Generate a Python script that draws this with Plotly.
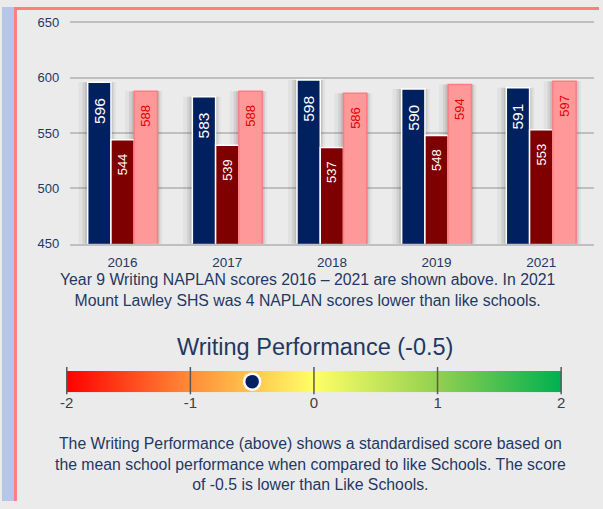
import plotly.graph_objects as go

# ---- data ----
years = ["2016", "2017", "2018", "2019", "2021"]
school = [596, 583, 598, 590, 591]          # Mount Lawley SHS
wa_public = [544, 539, 537, 548, 553]       # second series (dark red)
like_schools = [588, 588, 586, 594, 597]    # Like schools
y_ticks = [450, 500, 550, 600, 650]
gauge_ticks = [-2, -1, 0, 1, 2]
gauge_labels = ["-2", "-1", "0", "1", "2"]
score = -0.5

W, H = 603, 509
FONT = "Liberation Sans, Arial, sans-serif"
NAVY_TXT = "#1f3864"


def px(x):
    return x / W


def py(y):
    return 1 - y / H


PADS = "\u00a0\u00a0\u00a0"
BARGAP = 0.333
bw = (1 - BARGAP) / 3          # width of one bar in category units
unit_px = (593.5 - 68.5) / len(years)

fig = go.Figure()

series = [
    (school, "Mount Lawley SHS", "#002060", "white", 1.5, "white", 15.5),
    (wa_public, "WA Public Schools", "#7f0000", "white", 1.5, "white", 13),
    (like_schools, "Like Schools", "#ff9999", "#ff7c80", 1.5, "#e00000", 13),
]

# soft shadows behind the bars
for i, (vals, *_rest) in enumerate(series):
    off = -(1 - BARGAP) / 2 + i * bw
    for grow, alpha in [(7, 0.06), (4, 0.10), (2, 0.12)]:
        g = grow / unit_px
        fig.add_trace(go.Bar(
            x=years, y=vals, offset=off - g * 1.3, width=bw + g * 2,
            marker=dict(color=f"rgba(60,60,60,{alpha})", line=dict(width=0)),
            hoverinfo="skip", xaxis="x", yaxis="y", showlegend=False,
        ))

for vals, name, col, lcol, lw, tcol, tsize in series:
    fig.add_trace(go.Bar(
        x=years, y=vals, name=name,
        marker=dict(color=col, line=dict(color=lcol, width=lw)),
        text=[f"{v}{PADS}" for v in vals],
        textposition="inside", insidetextanchor="end", textangle=-90,
        constraintext="none",
        textfont=dict(color=tcol, size=tsize, family=FONT),
        hoverinfo="skip", xaxis="x", yaxis="y",
    ))

# gauge gradient bar
fig.add_trace(go.Scatter(
    x=[gauge_ticks[0], gauge_ticks[-1], gauge_ticks[-1], gauge_ticks[0], gauge_ticks[0]],
    y=[0, 0, 1, 1, 0],
    mode="lines", fill="toself", line=dict(width=0),
    fillgradient=dict(type="horizontal", colorscale=[
        [0.0, "#ff0000"], [0.25, "#ff8c38"], [0.5, "#ffff66"],
        [0.75, "#92d050"], [1.0, "#00b050"]]),
    hoverinfo="skip", xaxis="x2", yaxis="y2",
))
fig.add_trace(go.Scatter(
    x=[score], y=[0.5], mode="markers",
    marker=dict(size=16, color="#002060", line=dict(color="white", width=2.5)),
    cliponaxis=False, hoverinfo="skip", xaxis="x2", yaxis="y2",
))

# gauge axis geometry
g0, g1 = 65, 561
ppu = (g1 - g0) / (gauge_ticks[-1] - gauge_ticks[0])
pad = 0.04
gdom = [px(g0 - pad * ppu), px(g1 + pad * ppu)]

shapes = [
    dict(type="rect", xref="paper", yref="paper", x0=0, x1=px(12), y0=0, y1=1,
         fillcolor="#b4c7e7", line=dict(width=0), layer="below"),
    dict(type="rect", xref="paper", yref="paper", x0=px(12), x1=px(15), y0=0, y1=1,
         fillcolor="#ff7c80", line=dict(width=0), layer="below"),
    dict(type="rect", xref="paper", yref="paper", x0=px(12), x1=px(599), y0=py(3), y1=1,
         fillcolor="#ff7c80", line=dict(width=0), layer="below"),
]
for t in gauge_ticks:
    shapes.append(dict(type="line", xref="x2", yref="paper", x0=t, x1=t,
                       y0=py(399), y1=py(371), line=dict(color="#595959", width=1.5)))

annotations = [
    dict(text="Year 9 Writing NAPLAN scores 2016 \u2013 2021 are shown above. In 2021<br>"
              "Mount Lawley SHS was 4 NAPLAN scores lower than like schools.",
         x=px(307), y=py(291.5), xref="paper", yref="paper", showarrow=False,
         xanchor="center", yanchor="middle", font=dict(size=15.8, color=NAVY_TXT, family=FONT)),
    dict(text="Writing Performance (-0.5)",
         x=px(314), y=py(350), xref="paper", yref="paper", showarrow=False,
         xanchor="center", yanchor="middle", font=dict(size=23.5, color=NAVY_TXT, family=FONT)),
    dict(text="The Writing Performance (above) shows a standardised score based on<br>"
              "the mean school performance when compared to like Schools. The score<br>"
              "of -0.5 is lower than Like Schools.",
         x=px(310), y=py(471), xref="paper", yref="paper", showarrow=False,
         xanchor="center", yanchor="middle", font=dict(size=15.8, color=NAVY_TXT, family=FONT)),
]

fig.update_layout(
    width=W, height=H, margin=dict(l=0, r=0, t=0, b=0),
    paper_bgcolor="#ebebeb", plot_bgcolor="rgba(0,0,0,0)",
    showlegend=False, barmode="group", bargap=BARGAP, bargroupgap=0,
    font=dict(family=FONT),
    xaxis=dict(domain=[px(68.5), px(593.5)], type="category", anchor="y",
               showgrid=False, showline=True, mirror=True, linecolor="#bfbfbf", linewidth=2,
               ticks="", tickfont=dict(size=13.5, color=NAVY_TXT), ticklabelstandoff=5),
    yaxis=dict(domain=[py(244), py(16)], range=[y_ticks[0], y_ticks[-1]], anchor="x",
               tickvals=y_ticks, gridcolor="#bfbfbf", gridwidth=2, zeroline=False,
               showline=False, ticks="", tickfont=dict(size=13, color=NAVY_TXT),
               ticklabelstandoff=10),
    xaxis2=dict(domain=gdom, range=[gauge_ticks[0] - pad, gauge_ticks[-1] + pad], anchor="y2",
                showgrid=False, zeroline=False, showline=False, ticks="",
                tickvals=gauge_ticks, ticktext=gauge_labels,
                tickfont=dict(size=15, color="#404040")),
    yaxis2=dict(domain=[py(397), py(375)], range=[0, 1], anchor="x2", visible=False),
    shapes=shapes, annotations=annotations,
)

fig.write_html(
    "out.html",
    config={"displayModeBar": False},
    post_script=("document.documentElement.style.margin='0';"
                 "document.body.style.margin='0';"
                 "var d=document.getElementById('{plot_id}');"
                 "d.style.position='fixed';d.style.left='0px';d.style.top='0px';"),
)
